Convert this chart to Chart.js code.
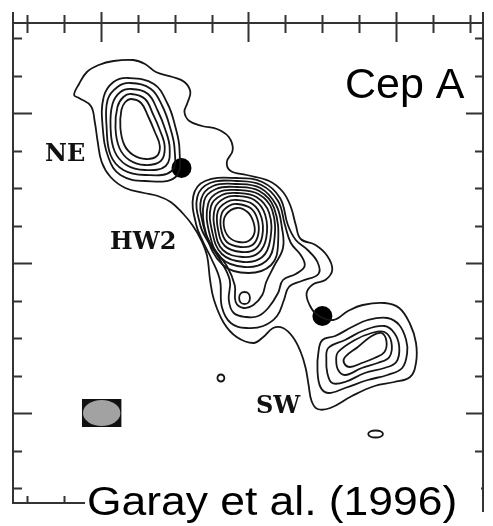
<!DOCTYPE html>
<html>
<head>
<meta charset="utf-8">
<script src="https://cdn.jsdelivr.net/npm/chart.js@4.4.1/dist/chart.umd.min.js"></script>
<style>
  html, body { margin: 0; padding: 0; background: #fff; }
  #map { display: block; }
</style>
</head>
<body>
<canvas id="map" width="493" height="526"></canvas>
<script>
// map offsets (arbitrary map units, y grows downward)
const xTickValues = [27, 64.5, 102, 139.5, 177, 214.5, 252, 289.5, 327, 364.5, 402, 439.5, 477];
const yTickValues = [38, 75.5, 113, 150.5, 188, 225.5, 263, 300.5, 338, 375.5, 413, 450.5, 488];

// lowest contour level, encloses NE + HW2 + SW
const outerContour = [
  [75,95],[80,84],[88,72],[100,65],[115,61],[135,60],[147,64],[158,72],[175,77],[187,82],
  [193,92],[190,103],[187,112],[192,121],[205,126],[220,129],[232,137],[236,150],[230,162],[234,171],
  [250,175],[273,181],[287,192],[295,207],[300,225],[305,239],[320,245],[332,256],[337,270],[330,280],
  [318,284],[311,293],[314,305],[322,315],[338,320],[353,311],[368,305],[390,303],[405,308],[416,324],
  [422,343],[422,363],[416,377],[400,382],[380,386],[357,396],[335,408],[322,409],[316,401],[313,385],
  [310,368],[305,352],[297,337],[287,328],[277,328],[267,337],[257,343],[240,337],[227,323],[217,300],
  [213,280],[210,256],[204,240],[195,225],[185,213],[173,202],[160,196],[146,193],[127,188],[112,177],
  [103,162],[99,142],[96,122],[92,106],[80,98]
];

const neContours = [
  [[133,99],[143,103],[150,116],[157,132],[162,146],[159,156],[148,159],[135,155],[126,145],[122,128],[123,110],[127,102]],
  [[133,94],[147,99],[155,114],[162,130],[167,147],[163,161],[147,165],[131,160],[121,148],[117,128],[119,107],[125,97]],
  [[133,89],[150,94],[160,111],[167,128],[172,148],[168,166],[147,170],[128,165],[116,151],[112,127],[114,104],[122,92]],
  [[132,83],[153,89],[165,107],[172,126],[177,149],[174,171],[147,175],[125,170],[112,155],[108,127],[109,100],[119,87]],
  [[130,78],[156,84],[170,104],[177,124],[182,150],[178,177],[147,181],[122,175],[110,158],[104,127],[105,97],[115,82]]
];

const hw2Contours = [
  [[240,208],[251,212],[257,222],[258,233],[252,241],[242,242],[232,237],[227,226],[229,215]],
  [[240,204],[254,208],[261,219],[262,234],[256,245],[244,247],[230,242],[224,228],[225,213],[232,206]],
  [[240,200],[256,204],[265,217],[266,236],[259,249],[245,252],[228,246],[221,229],[221,211],[230,202]],
  [[240,196],[258,200],[269,215],[270,238],[262,253],[246,257],[226,250],[218,230],[218,208],[228,198]],
  [[240,193],[260,197],[273,213],[274,240],[266,257],[247,262],[225,254],[215,231],[214,206],[225,195]],
  [[240,190],[262,194],[276,210],[278,242],[270,261],[248,267],[224,258],[212,232],[211,204],[222,192]],
  [[240,187],[263,191],[278,208],[282,244],[275,265],[252,273],[226,265],[209,234],[207,201],[219,189]],
  [[240,184],[264,188],[280,205],[286,228],[287,248],[278,266],[270,282],[266,295],[257,305],[247,308],
   [239,302],[238,285],[230,266],[213,243],[206,225],[204,199],[216,186]],
  [[240,181],[265,185],[282,201],[289,225],[295,243],[305,255],[309,266],[300,274],[287,280],[282,293],
   [272,308],[262,316],[250,317],[237,313],[232,300],[233,280],[222,258],[210,240],[203,225],[200,197],[213,183]],
  [[240,178],[266,182],[284,198],[292,225],[300,240],[312,250],[322,262],[323,274],[306,281],[293,287],
   [288,300],[281,316],[267,326],[250,328],[234,323],[225,307],[223,280],[214,258],[206,242],[199,225],[196,196],[208,181]]
];

const swContours = [
  [[327,340],[340,336],[357,327],[373,320],[393,318],[405,325],[412,340],[413,353],[408,368],[393,375],
   [373,380],[350,388],[333,393],[325,387],[322,370],[323,352]],
  [[333,348],[350,340],[370,330],[390,326],[400,333],[405,347],[402,362],[390,368],[370,373],[350,382],
   [337,383],[332,373],[331,360]],
  [[343,352],[360,340],[377,333],[390,332],[397,342],[395,357],[383,363],[367,368],[350,375],[343,370],[341,360]],
  [[350,357],[363,347],[377,336],[387,333],[392,341],[390,352],[380,358],[367,363],[355,367],[349,363]]
];

const smallContours = [
  [[248,292],[252,293.5],[253.5,298],[252,302.5],[248,304],[244,302.5],[242.5,298],[244,293.5]],
  [[224,374.5],[226.5,375.5],[227.5,378],[226.5,380.5],[224,381.5],[221.5,380.5],[220.5,378],[221.5,375.5]],
  [[381,430.5],[386,431.3],[388.5,434],[386,436.7],[381,437.5],[376,436.7],[373.5,434],[376,431.3]]
];

const sourcePositions = [[184,168],[327,316]];
const beam = { x: 103, y: 413, width: 40, height: 28 };

const LINE = '#161616';
const HIDE = 'rgba(0,0,0,0)';

// closed smooth loop: wrap neighbours so the spline has tangents at the seam
function loopDataset(pts) {
  const n = pts.length;
  const seq = [pts[n - 1]].concat(pts, [pts[0], pts[1]]);
  return {
    data: seq.map(p => ({ x: p[0], y: p[1] })),
    showLine: true,
    borderColor: LINE,
    borderWidth: 1.8,
    pointRadius: 0,
    tension: 0.4,
    fill: false,
    segment: {
      borderColor: ctx => (ctx.p0DataIndex === 0 || ctx.p0DataIndex === n + 1) ? HIDE : LINE
    }
  };
}

const allContours = [outerContour].concat(neContours, hw2Contours, swContours, smallContours);
const datasets = allContours.map(loopDataset);
datasets.push({
  data: sourcePositions.map(p => ({ x: p[0], y: p[1] })),
  showLine: false,
  pointRadius: 10,
  pointHoverRadius: 10,
  backgroundColor: '#000',
  borderColor: '#000',
  borderWidth: 0
});

const decorations = {
  id: 'decorations',
  afterDatasetsDraw(chart) {
    const c = chart.ctx, xs = chart.scales.x, ys = chart.scales.y;
    // beam
    const bx = xs.getPixelForValue(beam.x), by = ys.getPixelForValue(beam.y);
    const bw = xs.getPixelForValue(beam.x + beam.width / 2) - bx;
    const bh = ys.getPixelForValue(beam.y + beam.height / 2) - by;
    c.save();
    c.fillStyle = '#111';
    c.fillRect(bx - bw, by - bh, bw * 2, bh * 2);
    c.beginPath();
    c.ellipse(bx, by, bw - 1, bh - 1, 0, 0, Math.PI * 2);
    c.fillStyle = '#a2a2a2';
    c.fill();
    c.restore();
  },
  afterDraw(chart) {
    const c = chart.ctx, a = chart.chartArea, xs = chart.scales.x, ys = chart.scales.y;
    c.save();
    c.strokeStyle = '#333';
    c.lineWidth = 2;
    c.beginPath();
    c.moveTo(a.left, 12); c.lineTo(a.left, a.bottom); c.lineTo(85, a.bottom);
    c.moveTo(a.left, a.top); c.lineTo(a.right, a.top);
    c.moveTo(a.right, 12); c.lineTo(a.right, 512);
    xTickValues.forEach((v, i) => {
      const px = Math.round(xs.getPixelForValue(v)) + 0.5;
      const major = i % 4 === 2;
      c.moveTo(px, major ? a.top - 11 : a.top - 8);
      c.lineTo(px, major ? a.top + 19 : a.top + 10);
      if (px < 85) { c.moveTo(px, a.bottom); c.lineTo(px, a.bottom - 7); }
    });
    yTickValues.forEach((v, i) => {
      const py = Math.round(ys.getPixelForValue(v)) + 0.5;
      const major = i % 4 === 2;
      c.moveTo(a.left, py); c.lineTo(a.left + (major ? 19 : 9), py);
      c.moveTo(a.right, py); c.lineTo(a.right - (major ? 17 : 8), py);
    });
    c.stroke();

    // labels
    c.fillStyle = '#111';
    c.textBaseline = 'alphabetic';
    c.font = 'bold 24px "DejaVu Serif"';
    c.fillText('NE', 45, 161);
    c.fillText('HW2', 110, 249);
    c.fillText('SW', 256, 413);

    c.fillStyle = '#000';
    c.font = '43px "Liberation Sans", Arial, sans-serif';
    c.fillText('Cep A', 345, 98);

    c.fillStyle = '#fff';
    c.fillRect(85, 486, 396, 40);
    c.fillStyle = '#000';
    c.font = '40px "Liberation Sans", Arial, sans-serif';
    c.translate(87, 515);
    c.scale(1.11, 1);
    c.fillText('Garay et al. (1996)', 0, 0);
    c.restore();
  }
};

new Chart(document.getElementById('map'), {
  type: 'scatter',
  data: { datasets },
  options: {
    responsive: false,
    devicePixelRatio: 1,
    animation: false,
    events: [],
    layout: { padding: { left: 13, top: 23, right: 3, bottom: 23 } },
    scales: {
      x: { type: 'linear', min: 13, max: 490, display: false },
      y: { type: 'linear', min: 23, max: 503, reverse: true, display: false }
    },
    plugins: { legend: { display: false }, tooltip: { enabled: false } }
  },
  plugins: [decorations]
});
</script>
</body>
</html>
